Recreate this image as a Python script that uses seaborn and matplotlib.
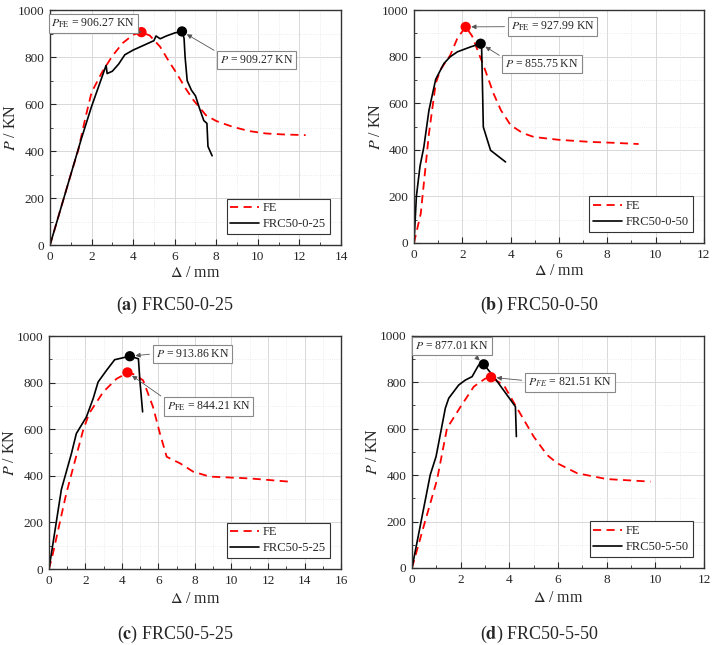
import numpy as np
import pandas as pd
import matplotlib.pyplot as plt
import seaborn as sns
from matplotlib.ticker import MultipleLocator

# --- data (deflection mm, load kN) ---
# (a) FRC50-0-25
a_fe_x = [0, 0.5, 1.0, 1.36, 1.7, 2.0, 2.5, 3.0, 3.5, 4.0, 4.4, 4.8, 5.3, 5.7, 6.1, 6.5, 6.9, 7.5, 8.0, 8.8, 9.6, 10.4, 11.2, 12.3]
a_fe_y = [0, 150, 300, 404, 540, 650, 735, 805, 860, 895, 906, 892, 844, 785, 730, 670, 617, 553, 528, 503, 485, 475, 471, 468]
a_ex_x = [0, 0.5, 1.0, 1.5, 2.0, 2.4, 2.7, 2.75, 3.0, 3.3, 3.6, 4.0, 4.5, 5.0, 5.1, 5.3, 5.6, 6.0, 6.35, 6.45, 6.5, 6.55, 6.6, 6.8, 7.0, 7.2, 7.4, 7.55, 7.6, 7.7, 7.8]
a_ex_y = [0, 150, 300, 450, 590, 690, 765, 730, 740, 770, 810, 830, 850, 870, 890, 878, 890, 903, 909, 880, 800, 750, 700, 660, 635, 580, 530, 518, 420, 400, 380]

# (b) FRC50-0-50
b_fe_x = [0, 0.28, 0.62, 0.9, 1.1, 1.5, 1.8, 2.14, 2.4, 2.9, 3.3, 3.6, 4.0, 4.5, 4.97, 6.0, 7.3, 8.3, 9.3]
b_fe_y = [0, 126, 470, 685, 745, 806, 880, 928, 890, 756, 640, 570, 506, 472, 455, 443, 434, 430, 425]
b_ex_x = [0, 0.1, 0.25, 0.41, 0.62, 0.9, 1.24, 1.5, 1.8, 2.34, 2.76, 2.8, 2.83, 2.87, 3.17, 3.79]
b_ex_y = [0, 200, 330, 413, 570, 703, 771, 800, 821, 842, 856, 840, 700, 498, 398, 348]

# (c) FRC50-5-25
c_fe_x = [0, 0.22, 0.95, 1.87, 2.2, 2.97, 3.7, 4.34, 4.7, 5.16, 5.7, 6.08, 6.45, 7.18, 7.9, 8.8, 11.0, 13.2]
c_fe_y = [0, 68, 325, 596, 668, 760, 817, 844, 835, 810, 696, 582, 482, 454, 418, 397, 389, 375]
c_ex_x = [0, 0.68, 1.23, 1.5, 2.05, 2.42, 2.69, 3.15, 3.6, 4.43, 4.9, 4.98, 5.13]
c_ex_y = [0, 342, 496, 582, 653, 732, 803, 853, 899, 914, 903, 810, 675]

# (d) FRC50-5-50
d_fe_x = [0, 0.48, 1.03, 1.44, 2.0, 2.54, 3.0, 3.22, 3.77, 4.32, 5.0, 5.55, 5.97, 6.79, 8.0, 9.8]
d_fe_y = [0, 179, 380, 602, 695, 781, 815, 822, 788, 688, 566, 487, 451, 408, 383, 372]
d_ex_x = [0, 0.75, 0.99, 1.37, 1.51, 1.92, 2.19, 2.47, 2.74, 2.95, 3.36, 4.25, 4.29]
d_ex_y = [0, 401, 480, 688, 731, 788, 809, 824, 874, 877, 824, 695, 566]

# peaks (x, y) and annotation texts
fe_peak_x = [4.4, 2.14, 4.3, 3.25]
fe_peak_y = [906.27, 927.99, 844.21, 821.51]
ex_peak_x = [6.35, 2.76, 4.43, 2.95]
ex_peak_y = [909.27, 855.75, 913.86, 877.01]
fe_texts = [r'$P_{\rm FE}$ = 906.27 KN', r'$P_{\rm FE}$ = 927.99 KN',
            r'$P_{\rm FE}$ = 844.21 KN', r'$P_{FE}$ = 821.51 KN']
ex_texts = [r'$P$ = 909.27 KN', r'$P$ = 855.75 KN', r'$P$ = 913.86 KN', r'$P$ = 877.01 KN']
specimens = ['FRC50-0-25', 'FRC50-0-50', 'FRC50-5-25', 'FRC50-5-50']
letters = ['a', 'b', 'c', 'd']
x_max = [14, 12, 16, 12]

fe_x = [a_fe_x, b_fe_x, c_fe_x, d_fe_x]
fe_y = [a_fe_y, b_fe_y, c_fe_y, d_fe_y]
ex_x = [a_ex_x, b_ex_x, c_ex_x, d_ex_x]
ex_y = [a_ex_y, b_ex_y, c_ex_y, d_ex_y]

axes_rects = [[0.070, 0.620, 0.4076, 0.3643],
              [0.5798, 0.6233, 0.406, 0.361],
              [0.0686, 0.1178, 0.409, 0.361],
              [0.577, 0.1194, 0.409, 0.360]]
fe_text_pos = [(0.149, 0.943), (0.478, 0.929), (0.546, 0.697), (0.541, 0.800)]
ex_text_pos = [(0.710, 0.789), (0.441, 0.770), (0.491, 0.925), (0.137, 0.957)]
fe_relpos = [(0.95, 0.0), (0.0, 0.5), (0.0, 1.0), (0.0, 0.6)]
ex_relpos = [(0.0, 1.0), (0.0, 0.9), (0.0, 0.5), (0.75, 0.0)]
xlabel_y = [-0.085, -0.085, -0.095, -0.095]
caption_pos = [(0.245, 0.527), (0.755, 0.527), (0.245, 0.016), (0.755, 0.016)]

sns.set_theme(style='ticks')
plt.rcParams['font.family'] = ['Liberation Serif', 'DejaVu Serif']
plt.rcParams['mathtext.fontset'] = 'stix'
plt.rcParams['xtick.direction'] = 'in'
plt.rcParams['ytick.direction'] = 'in'

fig = plt.figure(figsize=(7.14, 6.45), dpi=100)

for i in range(4):
    ax = fig.add_axes(axes_rects[i])
    df_fe = pd.DataFrame({'x': fe_x[i], 'y': fe_y[i]})
    df_ex = pd.DataFrame({'x': ex_x[i], 'y': ex_y[i]})
    sns.lineplot(data=df_fe, x='x', y='y', ax=ax, color='#ff0000', lw=1.3,
                 sort=False, estimator=None, label='FE')
    ax.lines[-1].set_dashes((4.5, 3))
    sns.lineplot(data=df_ex, x='x', y='y', ax=ax, color='black', lw=1.2,
                 sort=False, estimator=None, label=specimens[i])
    sns.scatterplot(x=[fe_peak_x[i]], y=[fe_peak_y[i]], ax=ax, color='#ff0000',
                    s=55, edgecolor='none', zorder=5)
    sns.scatterplot(x=[ex_peak_x[i]], y=[ex_peak_y[i]], ax=ax, color='black',
                    s=55, edgecolor='none', zorder=5)

    ax.set_xlim(0, x_max[i])
    ax.set_ylim(0, 1000)
    ax.xaxis.set_major_locator(MultipleLocator(2))
    ax.xaxis.set_minor_locator(MultipleLocator(1))
    ax.yaxis.set_major_locator(MultipleLocator(200))
    ax.yaxis.set_minor_locator(MultipleLocator(100))
    ax.grid(which='major', color='#d8d8d8', lw=0.7)
    ax.grid(which='minor', color='#e6e6e6', lw=0.6, ls=':')
    ax.set_axisbelow(True)
    for sp in ax.spines.values():
        sp.set_visible(True)
        sp.set_color('#333333')
        sp.set_linewidth(1.0)
    ax.tick_params(which='major', length=4, width=0.8, labelsize=9.5, pad=4)
    ax.tick_params(which='minor', length=2.5, width=0.6)

    ax.set_xlabel(r'$\mathit{\Delta}$ / mm', fontsize=11.5)
    ax.set_ylabel(r'$P$ / KN', fontsize=11.5)
    ax.xaxis.set_label_coords(0.5, xlabel_y[i])
    ax.yaxis.set_label_coords(-0.105, 0.5)

    bbox = dict(boxstyle='square,pad=0.25', fc='white', ec='#888888', lw=0.8)
    ax.annotate(fe_texts[i], xy=(fe_peak_x[i], fe_peak_y[i]), xycoords='data',
                xytext=fe_text_pos[i], textcoords='axes fraction',
                ha='center', va='center', fontsize=8.5, bbox=bbox, zorder=6,
                arrowprops=dict(arrowstyle='-|>', color='#555555', lw=0.6,
                                mutation_scale=7, relpos=fe_relpos[i], shrinkB=4))
    ax.annotate(ex_texts[i], xy=(ex_peak_x[i], ex_peak_y[i]), xycoords='data',
                xytext=ex_text_pos[i], textcoords='axes fraction',
                ha='center', va='center', fontsize=8.5, bbox=bbox, zorder=6,
                arrowprops=dict(arrowstyle='-|>', color='#555555', lw=0.6,
                                mutation_scale=7, relpos=ex_relpos[i], shrinkB=4))

    leg = ax.legend(loc='lower right', fontsize=9, frameon=True, fancybox=False,
                    edgecolor='#333333', framealpha=1, handlelength=2.3,
                    handletextpad=0.3, borderaxespad=0.9, labelspacing=0.3,
                    borderpad=0.3)
    leg.get_frame().set_linewidth(0.8)

    fig.text(caption_pos[i][0], caption_pos[i][1],
             r'($\mathbf{' + letters[i] + r'}$) ' + specimens[i],
             ha='center', va='center', fontsize=13)

fig.savefig('out.png', dpi=100, facecolor='white')
